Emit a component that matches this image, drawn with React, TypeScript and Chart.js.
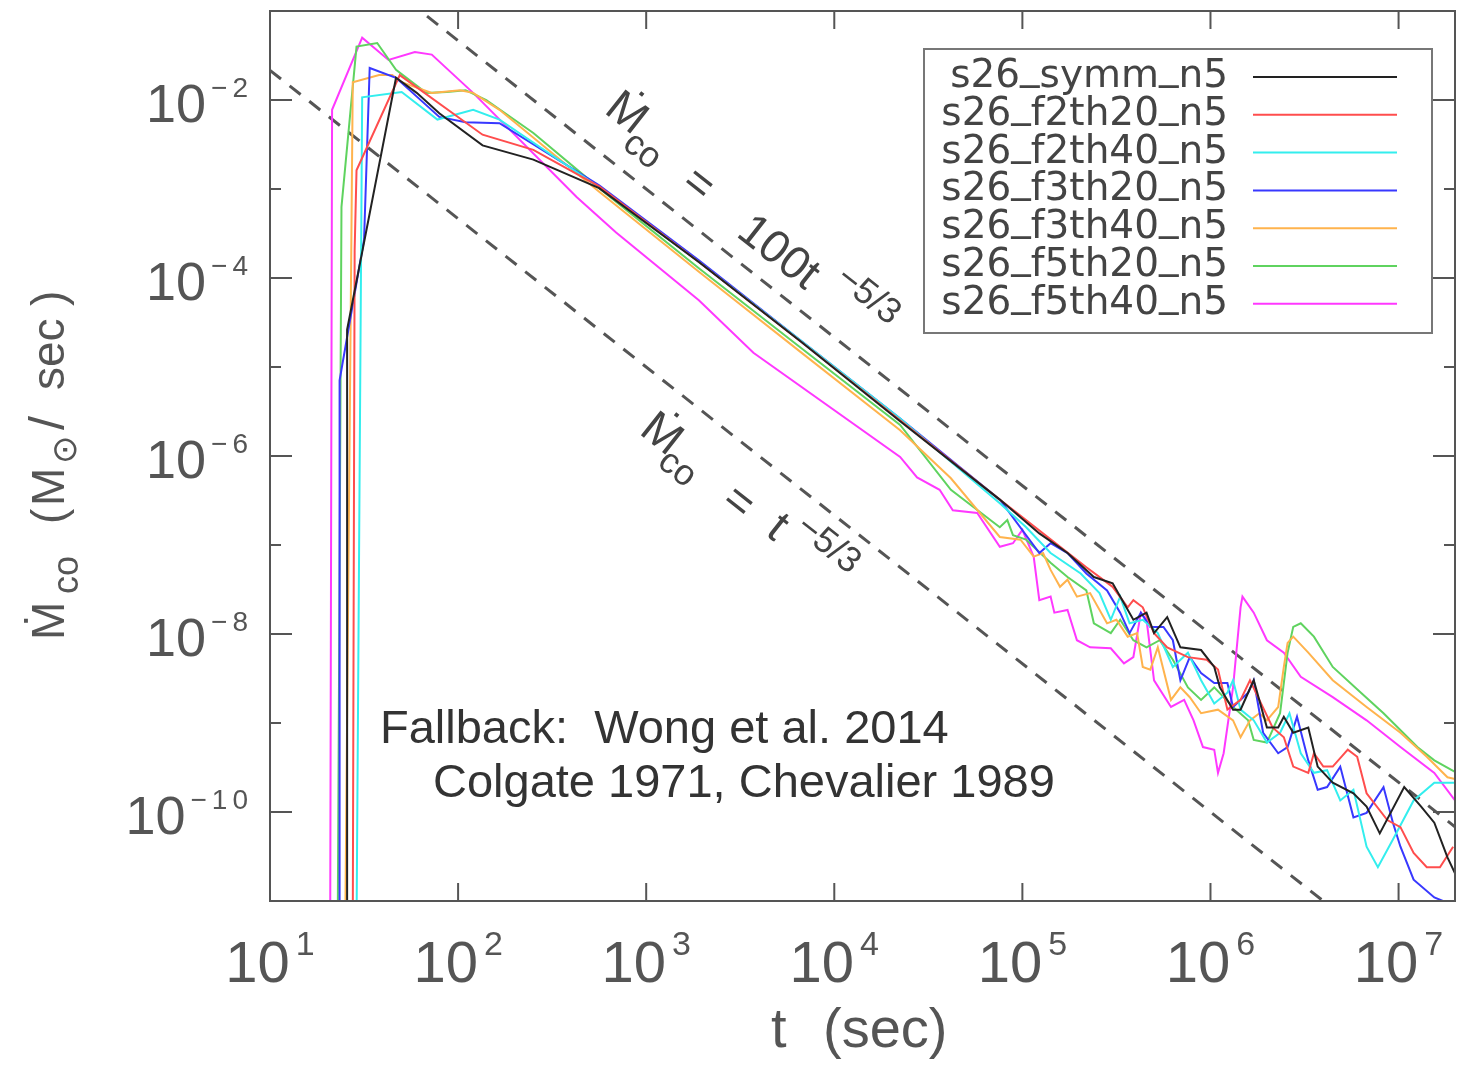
import React, { useEffect, useRef } from 'react';
import { Chart, registerables } from 'chart.js';

Chart.register(...registerables);

// ---- Data (stored as log10 of t [s] and log10 of Mdot [Msun/s]) ----
const seriesNames = [
  's26_symm_n5',
  's26_f2th20_n5',
  's26_f2th40_n5',
  's26_f3th20_n5',
  's26_f3th40_n5',
  's26_f5th20_n5',
  's26_f5th40_n5',
];
const seriesColors = ['#222222', '#ff4d4d', '#33eeee', '#3838ff', '#ffb34d', '#5fd35f', '#ff38ff'];

const logT_symm = [1.41, 1.41, 1.67, 1.78, 1.90, 2.13, 2.40, 2.75, 3.28, 3.82, 4.35, 4.88, 5.09, 5.24, 5.38, 5.48, 5.59, 5.66, 5.70, 5.77, 5.84, 5.95, 6.02, 6.05, 6.12, 6.16, 6.23, 6.30, 6.36, 6.39, 6.44, 6.52, 6.57, 6.65, 6.76, 6.83, 6.90, 7.03, 7.12, 7.19, 7.26, 7.30];
const logM_symm = [-11.3, -4.58, -1.75, -1.92, -2.15, -2.51, -2.67, -2.99, -3.82, -4.71, -5.61, -6.49, -6.87, -7.09, -7.36, -7.43, -7.84, -7.76, -7.99, -7.81, -8.15, -8.18, -8.37, -8.60, -8.85, -8.85, -8.52, -9.05, -9.05, -8.93, -9.11, -9.05, -9.49, -9.67, -9.79, -9.94, -10.24, -9.72, -9.94, -10.12, -10.51, -10.69];

const logT_f2th20 = [1.44, 1.45, 1.46, 1.69, 2.13, 2.40, 2.75, 3.28, 3.82, 4.35, 4.88, 5.34, 5.48, 5.56, 5.59, 5.64, 5.70, 5.77, 5.88, 5.98, 6.04, 6.09, 6.16, 6.21, 6.26, 6.33, 6.39, 6.44, 6.52, 6.55, 6.60, 6.65, 6.73, 6.78, 6.83, 6.94, 7.01, 7.08, 7.15, 7.22, 7.29];
const logM_f2th20 = [-11.3, -3.69, -2.79, -1.72, -2.39, -2.56, -2.97, -3.82, -4.71, -5.60, -6.49, -7.25, -7.47, -7.70, -7.62, -7.70, -7.99, -8.15, -8.26, -8.29, -8.40, -8.85, -8.74, -8.52, -8.74, -9.05, -9.16, -9.49, -9.56, -9.34, -9.49, -9.49, -9.30, -9.38, -9.79, -10.09, -10.17, -10.46, -10.62, -10.62, -10.39];

const logT_f2th40 = [1.46, 1.49, 1.70, 1.89, 2.08, 2.22, 2.75, 3.28, 3.82, 4.35, 4.88, 5.02, 5.15, 5.31, 5.41, 5.47, 5.52, 5.57, 5.64, 5.72, 5.80, 5.88, 5.95, 6.02, 6.09, 6.12, 6.16, 6.23, 6.30, 6.37, 6.42, 6.48, 6.55, 6.62, 6.69, 6.76, 6.83, 6.89, 6.97, 7.08, 7.19, 7.30];
const logM_f2th40 = [-11.3, -1.97, -1.91, -2.22, -2.11, -2.22, -2.98, -3.82, -4.70, -5.58, -6.53, -6.80, -7.09, -7.32, -7.54, -7.84, -7.58, -7.88, -7.84, -7.99, -8.37, -8.21, -8.52, -8.78, -8.66, -8.52, -8.85, -8.97, -9.22, -9.11, -8.89, -9.34, -9.56, -9.53, -9.87, -9.75, -10.39, -10.62, -10.31, -9.87, -9.67, -9.67];

const logT_f3th20 = [1.37, 1.37, 1.50, 1.53, 1.67, 1.90, 2.04, 2.22, 2.75, 3.28, 3.82, 4.35, 4.88, 5.09, 5.15, 5.24, 5.34, 5.45, 5.52, 5.57, 5.63, 5.68, 5.75, 5.80, 5.84, 5.89, 5.95, 6.02, 6.09, 6.12, 6.20, 6.23, 6.28, 6.36, 6.41, 6.46, 6.52, 6.57, 6.62, 6.69, 6.76, 6.83, 6.92, 6.97, 7.01, 7.08, 7.19, 7.26];
const logM_f3th20 = [-11.3, -5.15, -3.57, -1.64, -1.75, -2.19, -2.25, -2.26, -2.96, -3.80, -4.70, -5.58, -6.49, -7.09, -6.98, -7.09, -7.32, -7.51, -7.76, -7.99, -7.76, -7.92, -7.92, -8.07, -8.52, -8.26, -8.44, -8.55, -8.55, -8.82, -8.66, -8.52, -9.11, -9.34, -9.27, -8.93, -9.42, -9.75, -9.72, -9.49, -10.06, -10.01, -9.72, -10.12, -10.39, -10.76, -10.96, -11.02];

const logT_f3th40 = [1.40, 1.44, 1.58, 1.65, 1.70, 1.86, 2.01, 2.08, 2.22, 2.75, 3.28, 3.82, 4.35, 4.62, 4.88, 4.99, 5.06, 5.11, 5.15, 5.20, 5.24, 5.29, 5.36, 5.45, 5.50, 5.56, 5.61, 5.64, 5.68, 5.72, 5.79, 5.84, 5.89, 5.95, 6.04, 6.12, 6.16, 6.21, 6.26, 6.30, 6.36, 6.39, 6.41, 6.44, 6.52, 6.65, 6.83, 7.01, 7.15, 7.26, 7.30];
const logM_f3th40 = [-11.3, -1.80, -1.72, -1.72, -1.80, -1.92, -1.89, -1.92, -2.11, -3.03, -3.93, -4.83, -5.71, -6.25, -6.91, -6.94, -7.13, -7.09, -7.28, -7.47, -7.39, -7.58, -7.54, -7.88, -7.84, -8.03, -7.99, -8.37, -8.40, -8.15, -8.74, -8.60, -8.71, -8.89, -8.85, -8.97, -9.16, -8.97, -8.89, -8.97, -8.82, -8.37, -8.10, -8.03, -8.21, -8.52, -8.82, -9.11, -9.38, -9.61, -9.63];

const logT_f5th20 = [1.36, 1.38, 1.46, 1.57, 1.67, 1.83, 1.94, 2.04, 2.15, 2.40, 2.75, 3.28, 3.82, 4.35, 4.62, 4.88, 4.92, 4.95, 5.02, 5.15, 5.24, 5.34, 5.38, 5.47, 5.52, 5.59, 5.66, 5.73, 5.80, 5.88, 5.95, 6.02, 6.12, 6.20, 6.23, 6.30, 6.37, 6.41, 6.44, 6.48, 6.55, 6.65, 6.80, 6.92, 7.10, 7.19, 7.30];
const logM_f5th20 = [-11.3, -3.20, -1.40, -1.36, -1.66, -1.92, -1.91, -1.89, -2.00, -2.37, -2.99, -3.89, -4.78, -5.65, -6.38, -6.80, -6.72, -6.89, -6.94, -7.20, -7.36, -7.51, -7.88, -7.99, -7.84, -8.07, -8.15, -8.07, -8.29, -8.60, -8.74, -8.60, -8.82, -8.97, -9.19, -9.22, -8.89, -8.21, -7.92, -7.88, -8.03, -8.37, -8.66, -8.89, -9.27, -9.42, -9.55];

const logT_f5th40 = [1.32, 1.33, 1.49, 1.63, 1.77, 1.86, 2.08, 2.63, 2.84, 3.28, 3.57, 4.35, 4.44, 4.56, 4.63, 4.76, 4.88, 4.95, 5.00, 5.06, 5.09, 5.15, 5.17, 5.24, 5.29, 5.36, 5.47, 5.54, 5.59, 5.63, 5.66, 5.70, 5.79, 5.86, 5.91, 5.96, 6.02, 6.04, 6.07, 6.12, 6.16, 6.17, 6.23, 6.30, 6.39, 6.48, 6.65, 6.83, 7.01, 7.19, 7.30];
const logM_f5th40 = [-11.3, -2.11, -1.30, -1.55, -1.46, -1.49, -1.92, -3.09, -3.49, -4.25, -4.84, -6.01, -6.24, -6.38, -6.61, -6.64, -7.02, -6.98, -6.83, -7.13, -7.62, -7.58, -7.76, -7.73, -8.07, -8.15, -8.16, -8.33, -8.26, -7.76, -7.84, -8.52, -8.82, -8.74, -8.97, -9.27, -9.30, -9.56, -9.34, -8.60, -7.70, -7.58, -7.76, -8.07, -8.21, -8.48, -8.71, -8.97, -9.27, -9.56, -9.87];

const seriesLogT = [logT_symm, logT_f2th20, logT_f2th40, logT_f3th20, logT_f3th40, logT_f5th20, logT_f5th40];
const seriesLogM = [logM_symm, logM_f2th20, logM_f2th40, logM_f3th20, logM_f3th40, logM_f5th20, logM_f5th40];

// Reference power laws Mdot = 100 t^-5/3 and Mdot = t^-5/3 (end points)
const refT = [1e1, 1e8];
const refUpperM = [2.154, 4.642e-12];
const refLowerM = [2.154e-2, 4.642e-14];

// Axis ticks (exponents)
const xTickExps = [1, 2, 3, 4, 5, 6, 7];
const yLabelExps = [-2, -4, -6, -8, -10];
const yTickExps = [-2, -3, -4, -5, -6, -7, -8, -9, -10];

const X_MIN = 10;
const X_MAX = Math.pow(10, 7.3);
const Y_MIN = 1e-11;
const Y_MAX = 1e-1;

const SANS = "'Liberation Sans', 'DejaVu Sans', sans-serif";
const DEJAVU = "'DejaVu Sans', sans-serif";

function drawText(ctx: CanvasRenderingContext2D, s: string, x: number, y: number, size: number, opts: any = {}) {
  ctx.save();
  ctx.font = `${size}px ${opts.family || SANS}`;
  ctx.fillStyle = opts.color || '#444';
  ctx.textAlign = opts.align || 'left';
  ctx.textBaseline = opts.baseline || 'alphabetic';
  ctx.fillText(s, x, y);
  ctx.restore();
}

const overlay = {
  id: 'overlay',
  afterDatasetsDraw(chart: any) {
    const { ctx, chartArea: a, scales } = chart;
    const xs = scales.x;
    const ys = scales.y;
    ctx.save();

    // frame
    ctx.strokeStyle = '#555';
    ctx.lineWidth = 2;
    ctx.strokeRect(a.left, a.top, a.right - a.left, a.bottom - a.top);

    const seg = (x1: number, y1: number, x2: number, y2: number) => {
      ctx.beginPath();
      ctx.moveTo(x1, y1);
      ctx.lineTo(x2, y2);
      ctx.stroke();
    };
    for (const e of xTickExps) {
      if (e === 1) continue;
      const px = xs.getPixelForValue(Math.pow(10, e));
      seg(px, a.bottom, px, a.bottom - 18);
      seg(px, a.top, px, a.top + 18);
    }
    for (const e of yTickExps) {
      const py = ys.getPixelForValue(Math.pow(10, e));
      const len = e % 2 === 0 ? 22 : 11;
      seg(a.left, py, a.left + len, py);
      seg(a.right, py, a.right - len, py);
    }

    // y tick labels
    for (const e of yLabelExps) {
      const py = ys.getPixelForValue(Math.pow(10, e));
      const sup = '\u2212' + Math.abs(e);
      ctx.font = `28px ${SANS}`;
      (ctx as any).letterSpacing = '5px';
      const sw = ctx.measureText(sup).width;
      ctx.fillStyle = '#555';
      ctx.textAlign = 'left';
      ctx.textBaseline = 'alphabetic';
      ctx.fillText(sup, 253 - sw, py - 3);
      (ctx as any).letterSpacing = '0px';
      drawText(ctx, '10', 253 - sw - 5, py + 22, 54, { align: 'right', color: '#555' });
    }

    // x tick labels
    for (const e of xTickExps) {
      const px = xs.getPixelForValue(Math.pow(10, e));
      ctx.font = `58px ${SANS}`;
      const w10 = ctx.measureText('10').width;
      ctx.font = `34px ${SANS}`;
      const sup = String(e);
      const ws = ctx.measureText(sup).width;
      const start = px - (w10 + 6 + ws) / 2;
      drawText(ctx, '10', start, 982, 58, { color: '#555' });
      drawText(ctx, sup, start + w10 + 6, 955, 34, { color: '#555' });
    }

    // x title
    drawText(ctx, 't', 771, 1047, 56, { color: '#555' });
    drawText(ctx, '(sec)', 823, 1047, 56, { color: '#555' });

    // y title (rotated)
    ctx.save();
    ctx.translate(64, 640);
    ctx.rotate(-Math.PI / 2);
    drawText(ctx, '\u1E40', 0, 0, 46, { color: '#555' });
    drawText(ctx, 'co', 46, 14, 36, { color: '#555' });
    drawText(ctx, '(', 116, 0, 46, { color: '#555' });
    drawText(ctx, 'M', 134, 0, 46, { color: '#555' });
    drawText(ctx, '\u2299', 176, 12, 34, { color: '#555', family: DEJAVU });
    drawText(ctx, '/', 210, 0, 50, { color: '#555' });
    drawText(ctx, 'sec', 250, 0, 46, { color: '#555' });
    drawText(ctx, ')', 334, 0, 46, { color: '#555' });
    ctx.restore();

    // rotated power-law labels, aligned with the dashed lines
    const pxDec = xs.getPixelForValue(100) - xs.getPixelForValue(10);
    const pyDec = ys.getPixelForValue(1e-3) - ys.getPixelForValue(1e-2);
    const ang = Math.atan2((5 / 3) * pyDec, pxDec);
    const rot = (s: string, cx: number, cy: number, size: number) => {
      ctx.save();
      ctx.translate(cx, cy);
      ctx.rotate(ang);
      drawText(ctx, s, 0, 0, size, { align: 'center', baseline: 'middle', color: '#444' });
      ctx.restore();
    };
    rot('\u1E40', 626, 114, 46);
    rot('co', 642, 151, 36);
    rot('=', 698, 185, 46);
    rot('100t', 778, 253, 46);
    rot('\u22125/3', 868, 296, 36);
    rot('\u1E40', 661, 435, 46);
    rot('co', 677, 469, 36);
    rot('=', 738, 503, 46);
    rot('t', 777, 528, 46);
    rot('\u22125/3', 828, 545, 36);

    // credits
    drawText(ctx, 'Fallback:  Wong et al. 2014', 380, 743, 47, { color: '#333' });
    drawText(ctx, 'Colgate 1971, Chevalier 1989', 433, 797, 47, { color: '#333' });

    // legend
    ctx.fillStyle = '#fff';
    ctx.fillRect(924, 49, 508, 284);
    ctx.strokeStyle = '#777';
    ctx.lineWidth = 2;
    ctx.strokeRect(924, 49, 508, 284);
    seriesNames.forEach((name, i) => {
      const ly = 77 + i * 37.8;
      const base = ly + 10;
      ctx.save();
      ctx.font = `39px ${DEJAVU}`;
      ctx.fillStyle = '#444';
      ctx.textAlign = 'left';
      ctx.textBaseline = 'alphabetic';
      const total = ctx.measureText(name).width;
      let x = 1228 - total;
      // underscores sit on the baseline in the original typeface
      for (const part of name.split(/(_)/)) {
        if (!part) continue;
        ctx.fillText(part, x, part === '_' ? base - 8 : base);
        x += ctx.measureText(part).width;
      }
      ctx.restore();
      ctx.strokeStyle = seriesColors[i];
      ctx.lineWidth = 2;
      seg(1253, ly, 1397, ly);
    });

    ctx.restore();
  },
};

export default function App() {
  const ref = useRef<HTMLCanvasElement | null>(null);

  useEffect(() => {
    if (!ref.current) return;
    const datasets: any[] = seriesNames.map((name, i) => ({
      label: name,
      data: seriesLogT[i].map((lt, j) => ({ x: Math.pow(10, lt), y: Math.pow(10, seriesLogM[i][j]) })),
      borderColor: seriesColors[i],
      borderWidth: 2,
      pointRadius: 0,
      tension: 0,
      fill: false,
      clip: 0,
      order: 0,
    }));
    datasets.push({
      label: '100 t^-5/3',
      data: refT.map((t, j) => ({ x: t, y: refUpperM[j] })),
      borderColor: '#555',
      borderWidth: 3,
      borderDash: [14, 11],
      pointRadius: 0,
      fill: false,
      clip: 0,
      order: 1,
    });
    datasets.push({
      label: 't^-5/3',
      data: refT.map((t, j) => ({ x: t, y: refLowerM[j] })),
      borderColor: '#555',
      borderWidth: 3,
      borderDash: [14, 11],
      pointRadius: 0,
      fill: false,
      clip: 0,
      order: 1,
    });

    const chart = new Chart(ref.current, {
      type: 'line',
      data: { datasets },
      options: {
        animation: false,
        responsive: false,
        devicePixelRatio: 1,
        layout: { padding: { left: 270, top: 11, right: 6, bottom: 168 } },
        plugins: { legend: { display: false }, tooltip: { enabled: false } },
        scales: {
          x: { type: 'logarithmic', min: X_MIN, max: X_MAX, display: false },
          y: { type: 'logarithmic', min: Y_MIN, max: Y_MAX, display: false },
        },
      } as any,
      plugins: [overlay],
    });
    return () => chart.destroy();
  }, []);

  return (
    <div style={{ position: 'fixed', left: 0, top: 0, width: 1461, height: 1069, background: '#fff' }}>
      <canvas ref={ref} width={1461} height={1069} style={{ display: 'block' }} />
    </div>
  );
}
